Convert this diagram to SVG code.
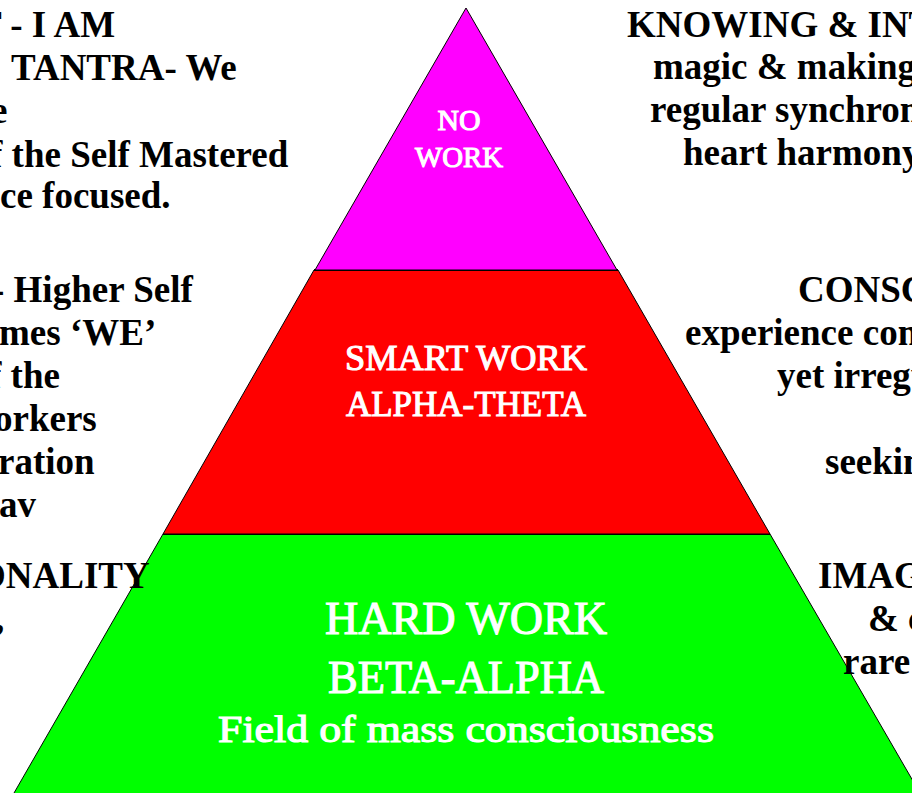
<svg xmlns="http://www.w3.org/2000/svg" width="912" height="793" viewBox="0 0 912 793">
<style>
.side{font-family:"Liberation Serif","Times New Roman",serif;font-weight:bold;font-size:37px;fill:#000}
.lab{font-family:"Liberation Serif","Times New Roman",serif;fill:#fff;stroke:#fff;stroke-width:1.1;text-anchor:middle}
.tier{stroke:#000;stroke-width:1}
.div{stroke:#000;stroke-width:2}
</style>
<rect x="0" y="0" width="912" height="793" fill="#fff"/>
<g id="tier-base">
<polygon class="tier" points="163,534 770,534 924,800 10,800" fill="#00ff00"/>
<line class="div" x1="163" y1="534" x2="770" y2="534"/>
<text class="lab" x="466" y="634" font-size="46" textLength="282" lengthAdjust="spacingAndGlyphs">HARD WORK</text>
<text class="lab" x="466" y="693" font-size="46" textLength="276" lengthAdjust="spacingAndGlyphs">BETA-ALPHA</text>
<text class="lab" x="466" y="742" font-size="37" textLength="496" lengthAdjust="spacingAndGlyphs">Field of mass consciousness</text>
</g>
<g id="tier-middle">
<polygon class="tier" points="314,270 618,270 770,534 163,534" fill="#ff0000"/>
<line class="div" x1="314" y1="270" x2="618" y2="270"/>
<text class="lab" x="466" y="370" font-size="36" textLength="242" lengthAdjust="spacingAndGlyphs">SMART WORK</text>
<text class="lab" x="466" y="416" font-size="36" textLength="240" lengthAdjust="spacingAndGlyphs">ALPHA-THETA</text>
</g>
<g id="tier-top">
<polygon class="tier" points="466,8 617,270 315,270" fill="#ff00ff"/>
<text class="lab" x="459" y="130" font-size="29" stroke-width="0.8" textLength="43" lengthAdjust="spacingAndGlyphs">NO</text>
<text class="lab" x="459" y="167" font-size="29" stroke-width="0.8" textLength="88" lengthAdjust="spacingAndGlyphs">WORK</text>
</g>
<g id="left-top" class="side">
<text x="-23" y="37">T - I AM</text>
<text x="11" y="80">TANTRA- We</text>
<text x="-9" y="123">e</text>
<text x="-10" y="167">f the Self Mastered</text>
<text x="0" y="208">ce focused.</text>
</g>
<g id="left-middle" class="side">
<text x="-8" y="302">- Higher Self</text>
<text x="-1" y="345">mes ‘WE’</text>
<text x="-11" y="388">f the</text>
<text x="-6" y="431">orkers</text>
<text x="-2" y="474">ration</text>
<text x="-1" y="517">av</text>
</g>
<g id="left-bottom" class="side">
<text x="-23" y="588">ONALITY</text>
<text x="-5" y="631">,</text>
</g>
<g id="right-top" class="side">
<text x="627" y="37">KNOWING &amp; INT</text>
<text x="653" y="79">magic &amp; making</text>
<text x="650" y="122">regular synchron</text>
<text x="683" y="165">heart harmony</text>
</g>
<g id="right-middle" class="side">
<text x="798" y="302">CONSC</text>
<text x="685" y="345">experience con</text>
<text x="777" y="388">yet irregu</text>
<text x="825" y="474">seekin</text>
</g>
<g id="right-bottom" class="side">
<text x="818" y="588">IMAG</text>
<text x="868" y="631">&amp; c</text>
<text x="843" y="674">rare</text>
</g>
</svg>
